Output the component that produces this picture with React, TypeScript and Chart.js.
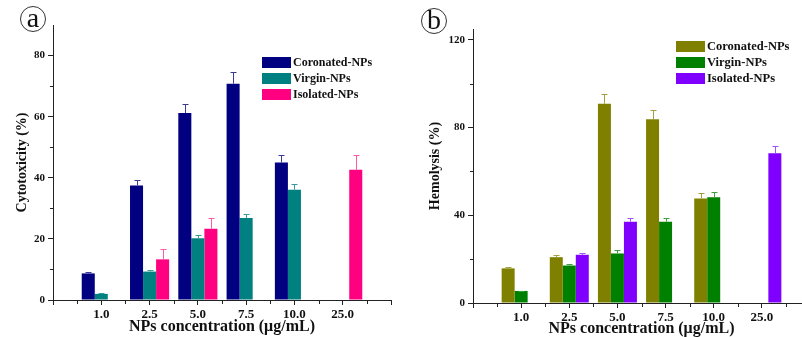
import React, { useEffect, useRef } from 'react';
import { Chart, registerables } from 'chart.js';

Chart.register(...registerables);

// ---------- data ----------
const categories = ['1.0', '2.5', '5.0', '7.5', '10.0', '25.0'];
const seriesNames = ['Coronated-NPs', 'Virgin-NPs', 'Isolated-NPs'];

const cytoCoronated = [8.7, 37.5, 61.2, 70.8, 45.0, null];
const cytoCoronatedErr = [0.6, 1.8, 3.1, 3.7, 2.3, null];
const cytoVirgin = [2.0, 9.3, 20.2, 26.8, 36.1, null];
const cytoVirginErr = [0.2, 0.5, 1.1, 1.3, 1.9, null];
const cytoIsolated = [null, 13.3, 23.3, null, null, 42.6];
const cytoIsolatedErr = [null, 3.3, 3.7, null, null, 4.9];

const hemoCoronated = [15.8, 20.9, 90.9, 83.8, 47.7, null];
const hemoCoronatedErr = [0.7, 0.8, 4.6, 4.1, 2.4, null];
const hemoVirgin = [5.5, 17.1, 22.6, 37.1, 48.2, null];
const hemoVirginErr = [0.2, 0.8, 1.4, 1.9, 2.6, null];
const hemoIsolated = [null, 22.0, 37.1, null, null, 68.3];
const hemoIsolatedErr = [null, 1.0, 1.9, null, null, 3.5];

const cytoTicks = [0, 20, 40, 60, 80];
const cytoMinorTicks = [10, 30, 50, 70];
const hemoTicks = [0, 40, 80, 120];
const hemoMinorTicks = [20, 60, 100];

const colorsA = ['#000080', '#008080', '#FF0080'];
const errColorsA = ['#3a3a98', '#3a9a9a', '#ff5aa8'];
const colorsB = ['#808000', '#008000', '#8000FF'];
const errColorsB = ['#a0a040', '#40a040', '#a050ff'];

const FONT = "'Liberation Serif', 'Times New Roman', serif";
const AXIS = '#222222';

const pad = (arr: (number | null)[]) => [null, ...arr, null];

const errorBarPlugin = {
  id: 'errorBars',
  afterDatasetsDraw(chart: any) {
    const ctx = chart.ctx;
    const yScale = chart.scales.y;
    chart.data.datasets.forEach((ds: any, di: number) => {
      const meta = chart.getDatasetMeta(di);
      const errs = ds.errors;
      if (!errs) return;
      meta.data.forEach((bar: any, i: number) => {
        const v = ds.data[i];
        const e = errs[i];
        if (v == null || e == null) return;
        const x = Math.round(bar.x) + 0.5;
        const y0 = bar.y;
        const y1 = Math.round(yScale.getPixelForValue(v + e)) + 0.5;
        ctx.save();
        ctx.strokeStyle = ds.errorColor;
        ctx.lineWidth = 1;
        ctx.beginPath();
        ctx.moveTo(x, y0);
        ctx.lineTo(x, y1);
        ctx.moveTo(x - 3, y1);
        ctx.lineTo(x + 3, y1);
        ctx.stroke();
        ctx.restore();
      });
    });
  },
};

const minorTickPlugin = {
  id: 'minorTicks',
  afterDraw(chart: any, _args: any, opts: any) {
    const ctx = chart.ctx;
    const { x: xs, y: ys } = chart.scales;
    const area = chart.chartArea;
    ctx.save();
    ctx.strokeStyle = AXIS;
    ctx.lineWidth = 1;
    ctx.beginPath();
    (opts.y || []).forEach((v: number) => {
      const py = Math.round(ys.getPixelForValue(v)) + 0.5;
      ctx.moveTo(area.left - 3, py);
      ctx.lineTo(area.left, py);
    });
    (opts.x || []).forEach((v: number) => {
      const px = Math.round(xs.getPixelForValue(v)) + 0.5;
      ctx.moveTo(px, area.bottom);
      ctx.lineTo(px, area.bottom + 4);
    });
    ctx.stroke();
    ctx.restore();
  },
};

type PanelProps = {
  width: number;
  height: number;
  values: (number | null)[][];
  errors: (number | null)[][];
  colors: string[];
  errColors: string[];
  yMax: number;
  yTicks: number[];
  yMinor: number[];
  yTitle: string;
  yAxisWidth: number;
  yTitlePad: number;
  xAxisHeight: number;
  xTitlePad: number;
  padTop: number;
  padRight: number;
};

function Panel(p: PanelProps) {
  const ref = useRef<HTMLCanvasElement | null>(null);
  useEffect(() => {
    if (!ref.current) return;
    const labels = ['', ...categories, ''];
    const xMinor = Array.from({ length: categories.length + 1 }, (_, i) => i + 0.5);
    const chart = new Chart(ref.current, {
      type: 'bar',
      data: {
        labels,
        datasets: seriesNames.map((name, i) => ({
          label: name,
          data: pad(p.values[i]),
          errors: pad(p.errors[i]),
          errorColor: p.errColors[i],
          backgroundColor: p.colors[i],
          borderWidth: 0,
          categoryPercentage: 0.81,
          barPercentage: 1,
        })) as any,
      },
      options: {
        responsive: false,
        animation: false,
        layout: { padding: { left: 0, top: p.padTop, right: p.padRight, bottom: 0 } },
        plugins: {
          legend: { display: false },
          tooltip: { enabled: false },
          minorTicks: { x: xMinor, y: p.yMinor },
        } as any,
        scales: {
          x: {
            type: 'category',
            offset: false,
            grid: {
              offset: false,
              drawOnChartArea: false,
              drawTicks: true,
              tickLength: 5,
              color: AXIS,
            },
            border: { display: true, color: AXIS, width: 1 },
            ticks: {
              autoSkip: false,
              maxRotation: 0,
              padding: 2,
              color: '#111',
              font: { family: FONT, size: 13, weight: 'bold' },
            },
            title: {
              display: true,
              text: 'NPs concentration (μg/mL)',
              color: '#111',
              font: { family: FONT, size: 16, weight: 'bold', lineHeight: 1 },
              padding: { top: 0, bottom: p.xTitlePad },
            },
            afterFit: (scale: any) => {
              scale.height = p.xAxisHeight;
            },
          },
          y: {
            min: 0,
            max: p.yMax,
            afterBuildTicks: (scale: any) => {
              scale.ticks = p.yTicks.map((v) => ({ value: v }));
            },
            grid: {
              drawOnChartArea: false,
              drawTicks: true,
              tickLength: 5,
              color: AXIS,
            },
            border: { display: true, color: AXIS, width: 1 },
            ticks: {
              padding: 3,
              color: '#111',
              font: { family: FONT, size: 11, weight: 'bold' },
            },
            title: {
              display: true,
              text: p.yTitle,
              color: '#111',
              font: { family: FONT, size: 14, weight: 'bold', lineHeight: 1 },
              padding: { top: p.yTitlePad, bottom: 0 },
            },
            afterFit: (scale: any) => {
              scale.width = p.yAxisWidth;
            },
          },
        },
      },
      plugins: [errorBarPlugin, minorTickPlugin],
    });
    return () => chart.destroy();
  }, []);
  return <canvas ref={ref} width={p.width} height={p.height} style={{ display: 'block' }} />;
}

function Legend({ left, top, colors, fontSize }: { left: number; top: number; colors: string[]; fontSize: number }) {
  return (
    <div style={{ position: 'absolute', left, top }}>
      {seriesNames.map((n, i) => (
        <div key={n} style={{ position: 'absolute', left: 0, top: i * 16, height: 11, whiteSpace: 'nowrap' }}>
          <div style={{ position: 'absolute', left: 0, top: 0, width: 29, height: 11, background: colors[i] }} />
          <div
            style={{
              position: 'absolute',
              left: 31,
              top: -3,
              fontFamily: FONT,
              fontWeight: 'bold',
              fontSize,
              lineHeight: '17px',
              color: '#111',
            }}
          >
            {n}
          </div>
        </div>
      ))}
    </div>
  );
}

function Badge({ cx, cy, letter }: { cx: number; cy: number; letter: string }) {
  const r = 13;
  return (
    <div
      style={{
        position: 'absolute',
        left: cx - r,
        top: cy - r,
        width: r * 2,
        height: r * 2,
        border: '1px solid #333',
        borderRadius: '50%',
        boxSizing: 'border-box',
        textAlign: 'center',
        fontFamily: FONT,
        fontSize: 28,
        lineHeight: '22px',
        color: '#111',
      }}
    >
      {letter}
    </div>
  );
}

export default function App() {
  return (
    <div
      style={{
        position: 'absolute',
        left: 0,
        top: 0,
        width: 802,
        height: 337,
        overflow: 'hidden',
        background: '#fff',
      }}
    >
      <div style={{ position: 'absolute', left: 0, top: 0 }}>
        <Panel
          width={400}
          height={337}
          values={[cytoCoronated, cytoVirgin, cytoIsolated]}
          errors={[cytoCoronatedErr, cytoVirginErr, cytoIsolatedErr]}
          colors={colorsA}
          errColors={errColorsA}
          yMax={90}
          yTicks={cytoTicks}
          yMinor={cytoMinorTicks}
          yTitle="Cytotoxicity (%)"
          yAxisWidth={53}
          yTitlePad={15}
          xAxisHeight={37}
          xTitlePad={2}
          padTop={25}
          padRight={9}
        />
      </div>
      <div style={{ position: 'absolute', left: 400, top: 0 }}>
        <Panel
          width={412}
          height={337}
          values={[hemoCoronated, hemoVirgin, hemoIsolated]}
          errors={[hemoCoronatedErr, hemoVirginErr, hemoIsolatedErr]}
          colors={colorsB}
          errColors={errColorsB}
          yMax={125}
          yTicks={hemoTicks}
          yMinor={hemoMinorTicks}
          yTitle="Hemolysis (%)"
          yAxisWidth={73}
          yTitlePad={28}
          xAxisHeight={34}
          xTitlePad={0}
          padTop={29}
          padRight={1}
        />
      </div>
      <Legend left={262} top={57} colors={colorsA} fontSize={12} />
      <Legend left={676} top={41} colors={colorsB} fontSize={12.5} />
      <Badge cx={33} cy={19} letter="a" />
      <Badge cx={434} cy={21} letter="b" />
    </div>
  );
}
